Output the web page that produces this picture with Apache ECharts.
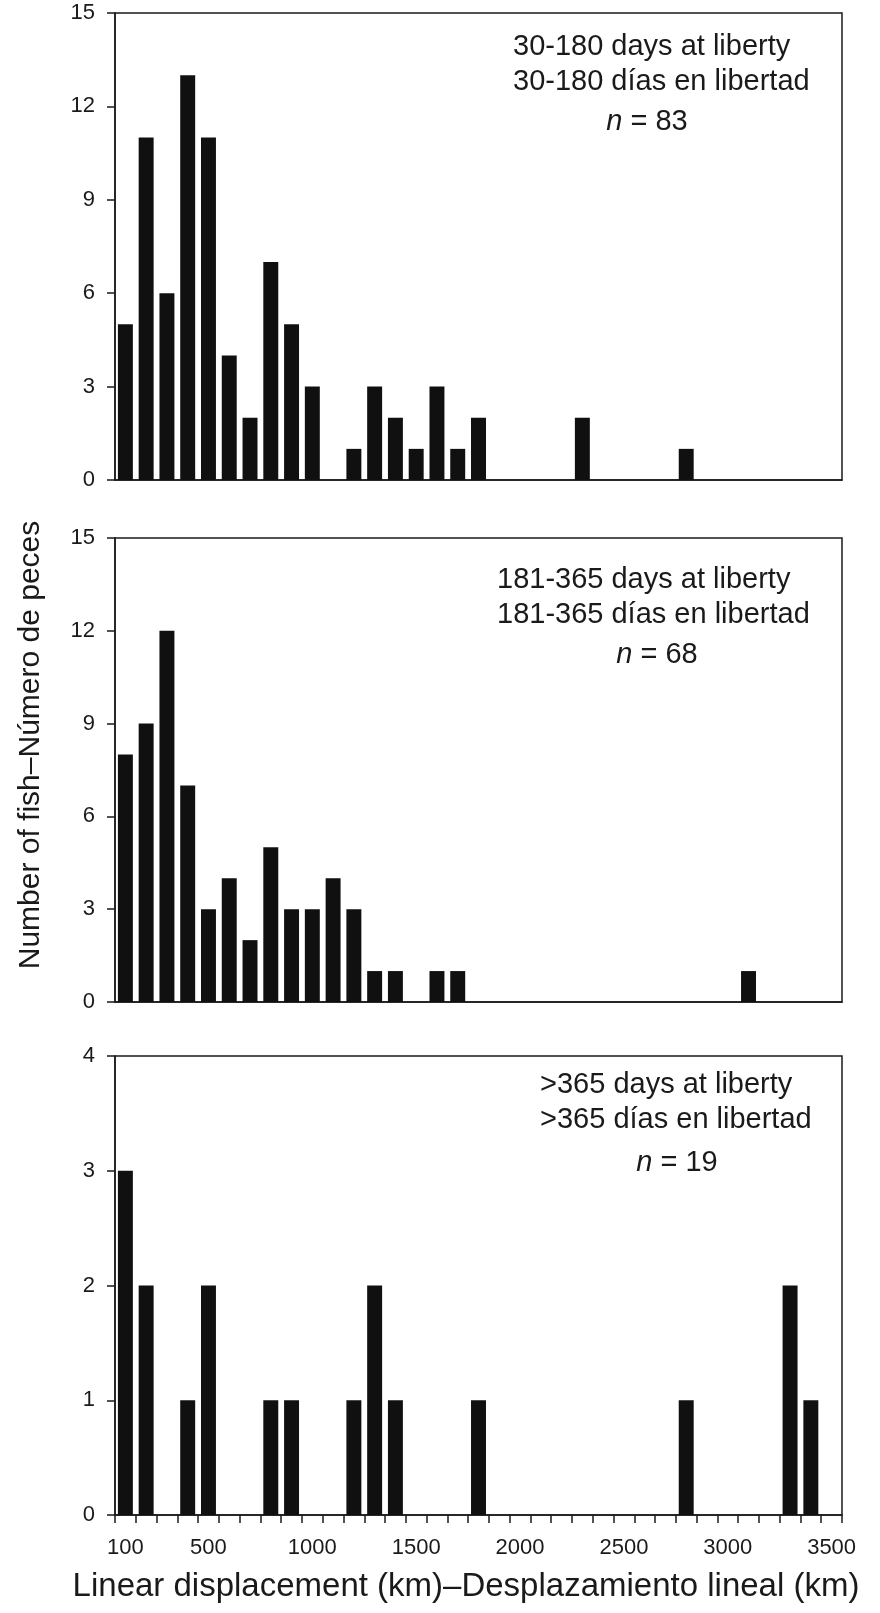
<!DOCTYPE html>
<html>
<head>
<meta charset="utf-8">
<script src="https://cdn.jsdelivr.net/npm/echarts@6/dist/echarts.min.js"></script>
<style>
html,body{margin:0;padding:0;background:#fff;}
#chart{width:880px;height:1613px;}
</style>
</head>
<body>
<div id="chart"></div>
<script>
// Bins of linear displacement (km), 100-km classes
const categories = ['100','200','300','400','500','600','700','800','900','1000',
  '1100','1200','1300','1400','1500','1600','1700','1800','1900','2000',
  '2100','2200','2300','2400','2500','2600','2700','2800','2900','3000',
  '3100','3200','3300','3400','3500'];
const xTickLabels = ['100','500','1000','1500','2000','2500','3000','3500'];

// 30-180 days at liberty (n = 83)
const fish30to180 = [5,11,6,13,11,4,2,7,5,3,0,1,3,2,1,3,1,2,0,0,0,0,2,0,0,0,0,1,0,0,0,0,0,0,0];
// 181-365 days at liberty (n = 68)
const fish181to365 = [8,9,12,7,3,4,2,5,3,3,4,3,1,1,0,1,1,0,0,0,0,0,0,0,0,0,0,0,0,0,1,0,0,0,0];
// >365 days at liberty (n = 19)
const fishOver365 = [3,2,0,1,2,0,0,1,1,0,0,1,2,1,0,0,0,1,0,0,0,0,0,0,0,0,0,1,0,0,0,0,2,1,0];

const yMax = [15, 15, 4];
const yInterval = [3, 3, 1];
const panelLines = [
  ['30-180 days at liberty', '30-180 días en libertad', '83'],
  ['181-365 days at liberty', '181-365 días en libertad', '68'],
  ['>365 days at liberty', '>365 días en libertad', '19']
];
const xTitle = 'Linear displacement (km)\u2013Desplazamiento lineal (km)';
const yTitle = 'Number of fish\u2013Número de peces';

const FONT = '"Liberation Sans", Arial, Helvetica, sans-serif';
const INK = '#1a1a1a';
const series = [fish30to180, fish181to365, fishOver365];
const gridTops = [13, 538, 1056];
const gridHeights = [467, 464, 459];
const textPos = [
  {x: 513, y: [47, 82, 122], nx: 647},
  {x: 497, y: [580, 615, 655], nx: 657},
  {x: 540, y: [1085, 1120, 1163], nx: 677}
];

const chart = echarts.init(document.getElementById('chart'), null, {renderer: 'canvas'});

const grids = [], xAxes = [], yAxes = [], ser = [], graphics = [];
for (let i = 0; i < 3; i++) {
  const isBottom = i === 2;
  grids.push({
    left: 115, width: 727, top: gridTops[i], height: gridHeights[i],
    show: true, borderColor: INK, borderWidth: 1.5, backgroundColor: 'transparent',
    containLabel: false, outerBoundsMode: 'none'
  });
  xAxes.push({
    type: 'category', gridIndex: i, data: categories, boundaryGap: true,
    axisLine: {show: true, lineStyle: {color: INK, width: 1.5}},
    axisTick: {show: isBottom, interval: 0, length: 8, inside: false, lineStyle: {color: INK, width: 1.5}},
    axisLabel: {
      show: isBottom, margin: 22, fontSize: 22, color: INK, fontFamily: FONT,
      interval: (idx, val) => xTickLabels.indexOf(val) >= 0
    },
    splitLine: {show: false}
  });
  yAxes.push({
    type: 'value', gridIndex: i, min: 0, max: yMax[i], interval: yInterval[i],
    axisLine: {show: true, lineStyle: {color: INK, width: 1.5}},
    axisTick: {show: true, length: 8, inside: false, lineStyle: {color: INK, width: 1.5}},
    axisLabel: {margin: 20, fontSize: 22, color: INK, fontFamily: FONT},
    splitLine: {show: false}
  });
  ser.push({
    type: 'bar', xAxisIndex: i, yAxisIndex: i, data: series[i],
    barCategoryGap: '28%',
    itemStyle: {color: '#101010'},
    silent: true
  });
  const tp = textPos[i];
  const lines = panelLines[i];
  graphics.push({type: 'text', x: tp.x, y: tp.y[0], style: {text: lines[0], fontSize: 29, fontFamily: FONT, fill: INK, verticalAlign: 'middle'}});
  graphics.push({type: 'text', x: tp.x, y: tp.y[1], style: {text: lines[1], fontSize: 29, fontFamily: FONT, fill: INK, verticalAlign: 'middle'}});
  graphics.push({type: 'text', x: tp.nx, y: tp.y[2], style: {
    text: '{i|n} = ' + lines[2], fontSize: 29, fontFamily: FONT, fill: INK,
    align: 'center', verticalAlign: 'middle',
    rich: {i: {fontStyle: 'italic', fontSize: 29, fontFamily: FONT, fill: INK, color: INK}}
  }});
}

graphics.push({type: 'text', x: 466, y: 1587, style: {
  text: xTitle, fontSize: 33, fontFamily: FONT, fill: INK, align: 'center', verticalAlign: 'middle'
}});
graphics.push({type: 'text', x: 31, y: 745, rotation: Math.PI / 2, style: {
  text: yTitle, fontSize: 30, fontFamily: FONT, fill: INK, align: 'center', verticalAlign: 'middle'
}});

chart.setOption({
  animation: false,
  backgroundColor: '#fff',
  grid: grids, xAxis: xAxes, yAxis: yAxes, series: ser, graphic: graphics
});
</script>
</body>
</html>
